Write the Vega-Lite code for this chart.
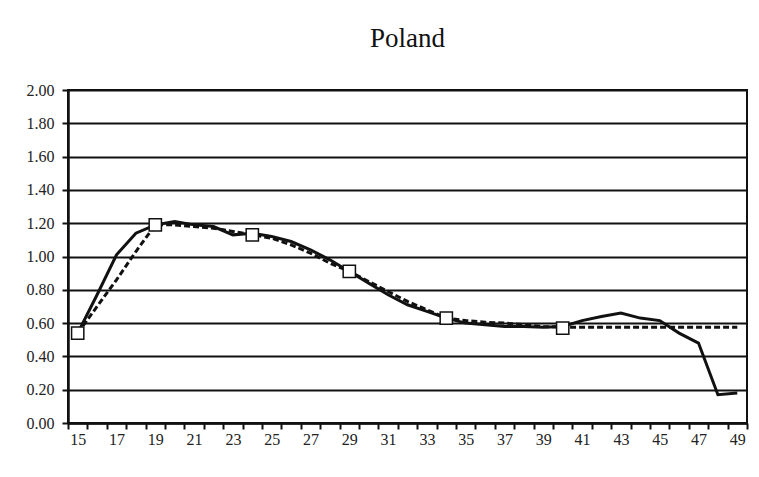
{
  "$schema": "https://vega.github.io/schema/vega-lite/v6.json",
  "autosize": "none",
  "width": 679,
  "height": 333,
  "padding": {"left": 68, "top": 90, "right": 12, "bottom": 54},
  "background": "white",
  "title": {
    "text": "Poland",
    "font": "Liberation Serif",
    "fontSize": 27,
    "fontWeight": "normal",
    "color": "#111",
    "anchor": "middle",
    "baseline": "alphabetic",
    "offset": 8
  },
  "config": {
    "view": {"stroke": "#111", "strokeWidth": 2},
    "axis": {
      "labelFont": "Liberation Serif",
      "labelFontSize": 16,
      "labelColor": "#222",
      "domainColor": "#111",
      "tickColor": "#111",
      "title": null
    },
    "axisY": {
      "values": [0, 0.2, 0.4, 0.6, 0.8, 1.0, 1.2, 1.4, 1.6, 1.8, 2.0],
      "format": ".2f",
      "grid": true,
      "gridColor": "#111",
      "gridWidth": 2,
      "gridOpacity": 1,
      "tickSize": 6,
      "tickWidth": 2,
      "domainWidth": 2.5,
      "labelPadding": 8,
      "labelOverlap": false
    }
  },
  "data": {
    "values": [
      {"age": 15, "actual": 0.54, "fitted": 0.54, "marker": 0.54},
      {"age": 16, "actual": 0.77, "fitted": 0.70},
      {"age": 17, "actual": 1.01, "fitted": 0.86},
      {"age": 18, "actual": 1.14, "fitted": 1.03},
      {"age": 19, "actual": 1.19, "fitted": 1.19, "marker": 1.19},
      {"age": 20, "actual": 1.21, "fitted": 1.19},
      {"age": 21, "actual": 1.19, "fitted": 1.18},
      {"age": 22, "actual": 1.18, "fitted": 1.17},
      {"age": 23, "actual": 1.13, "fitted": 1.15},
      {"age": 24, "actual": 1.14, "fitted": 1.13, "marker": 1.13},
      {"age": 25, "actual": 1.12, "fitted": 1.11},
      {"age": 26, "actual": 1.09, "fitted": 1.07},
      {"age": 27, "actual": 1.04, "fitted": 1.02},
      {"age": 28, "actual": 0.98, "fitted": 0.96},
      {"age": 29, "actual": 0.91, "fitted": 0.91, "marker": 0.91},
      {"age": 30, "actual": 0.84, "fitted": 0.85},
      {"age": 31, "actual": 0.77, "fitted": 0.79},
      {"age": 32, "actual": 0.71, "fitted": 0.73},
      {"age": 33, "actual": 0.67, "fitted": 0.68},
      {"age": 34, "actual": 0.63, "fitted": 0.63, "marker": 0.63},
      {"age": 35, "actual": 0.60, "fitted": 0.615},
      {"age": 36, "actual": 0.59, "fitted": 0.605},
      {"age": 37, "actual": 0.58, "fitted": 0.60},
      {"age": 38, "actual": 0.58, "fitted": 0.59},
      {"age": 39, "actual": 0.575, "fitted": 0.58},
      {"age": 40, "actual": 0.58, "fitted": 0.575, "marker": 0.57},
      {"age": 41, "actual": 0.615, "fitted": 0.575},
      {"age": 42, "actual": 0.64, "fitted": 0.575},
      {"age": 43, "actual": 0.66, "fitted": 0.575},
      {"age": 44, "actual": 0.63, "fitted": 0.575},
      {"age": 45, "actual": 0.615, "fitted": 0.575},
      {"age": 46, "actual": 0.54, "fitted": 0.575},
      {"age": 47, "actual": 0.48, "fitted": 0.575},
      {"age": 48, "actual": 0.17, "fitted": 0.575},
      {"age": 49, "actual": 0.18, "fitted": 0.575}
    ]
  },
  "encoding": {
    "x": {
      "field": "age",
      "type": "ordinal",
      "bandPosition": 0.5,
      "scale": {"type": "band", "paddingInner": 0, "paddingOuter": 0},
      "axis": {
        "labelAngle": 0,
        "tickBand": "extent",
        "tickSize": 6,
        "tickWidth": 2,
        "domainWidth": 2.5,
        "labelPadding": 2,
        "labelOverlap": false,
        "labelExpr": "datum.value % 2 == 1 ? datum.label : ''",
        "grid": false
      }
    }
  },
  "layer": [
    {
      "mark": {"type": "line", "color": "#111", "strokeWidth": 3, "strokeDash": [6, 3]},
      "encoding": {
        "y": {"field": "fitted", "type": "quantitative", "scale": {"domain": [0, 2], "nice": false}}
      }
    },
    {
      "mark": {"type": "line", "color": "#111", "strokeWidth": 3},
      "encoding": {
        "y": {"field": "actual", "type": "quantitative"}
      }
    },
    {
      "transform": [{"filter": "isValid(datum.marker)"}],
      "mark": {"type": "point", "shape": "square", "filled": true, "fill": "white", "stroke": "#111", "strokeWidth": 1.5, "size": 150, "opacity": 1},
      "encoding": {
        "y": {"field": "marker", "type": "quantitative"}
      }
    }
  ]
}
